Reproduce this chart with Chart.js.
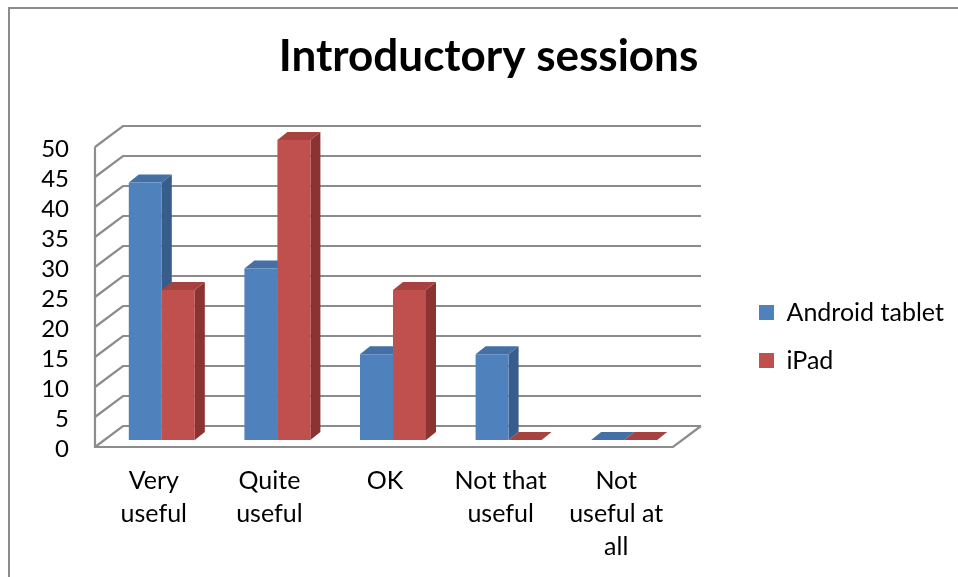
<!DOCTYPE html>
<html lang="en">
<head>
  <meta charset="UTF-8">
  <title>Introductory sessions</title>
  <script src="https://cdn.jsdelivr.net/npm/chart.js"></script>
  <style>
    html, body { margin: 0; padding: 0; background: #fff; }
    #wrap { width: 958px; height: 577px; }
  </style>
</head>
<body>
  <div id="wrap"><canvas id="grafico"></canvas></div>

  <script>
    // Dados do gráfico
    const categories = [['Very', 'useful'], ['Quite', 'useful'], ['OK'], ['Not that', 'useful'], ['Not', 'useful at', 'all']];
    const seriesNames = ['Android tablet', 'iPad'];
    const androidValues = [42.9, 28.6, 14.3, 14.3, 0];
    const ipadValues = [25, 50, 25, 0, 0];
    const yMin = 0, yMax = 50, yStep = 5;

    // cores (frente, topo, lado)
    const blue = ['#4F81BD', '#4470A6', '#385D8A'];
    const red = ['#C0504D', '#A6423F', '#8B3331'];

    // 3D: deslocamentos em relação ao plano das barras
    const frontOff = { dx: -9, dy: 7 };
    const backOff = { dx: 19, dy: -14 };
    const barDepth = { dx: 10, dy: -8 };
    const gridColor = '#8c8c8c';

    const plotRight = 682;
    const fontSize = 25;
    const legendPad = 23;

    // largura da legenda (para deixar a área do gráfico no lugar certo)
    const m = document.createElement('canvas').getContext('2d');
    m.font = fontSize + 'px Lato';
    const textW = Math.max(...seriesNames.map(n => m.measureText(n).width));
    const legendW = legendPad + 15 + fontSize / 2 + textW + 10;

    const plugin3d = {
      id: 'fake3d',
      beforeDraw(chart) {
        const c = chart.ctx;
        c.save();
        c.fillStyle = '#fff';
        c.fillRect(0, 0, chart.width, chart.height);
        c.strokeStyle = '#8c8c8c';
        c.lineWidth = 2;
        c.beginPath();
        c.moveTo(9, chart.height);
        c.lineTo(9, 8);
        c.lineTo(chart.width, 8);
        c.stroke();
        c.restore();
      },
      afterLayout(chart) {
        const lg = chart.legend;
        const w = lg.width;
        lg.left = 759 - legendPad; lg.right = lg.left + w;
        lg.top = 300 - legendPad; lg.bottom = lg.top + 130;
        const t = chart.titleBlock;
        if (t) { t.left = 19; t.right = chart.width; }
      },
      beforeDatasetsDraw(chart) {
        const c = chart.ctx;
        const y = chart.scales.y;
        const { left, right } = chart.chartArea;
        c.save();
        c.strokeStyle = gridColor;
        c.lineWidth = 2.2;
        c.beginPath();
        for (let v = yMin; v <= yMax; v += yStep) {
          const py = y.getPixelForValue(v);
          c.moveTo(left + frontOff.dx, py + frontOff.dy);
          c.lineTo(left + backOff.dx, py + backOff.dy);
          c.lineTo(right + backOff.dx, py + backOff.dy);
        }
        const y0 = y.getPixelForValue(yMin), y1 = y.getPixelForValue(yMax);
        c.moveTo(left + frontOff.dx, y1 + frontOff.dy);
        c.lineTo(left + frontOff.dx, y0 + frontOff.dy);
        c.lineTo(right + frontOff.dx, y0 + frontOff.dy);
        c.lineTo(right + backOff.dx, y0 + backOff.dy);
        c.stroke();

        // topo e lado das barras
        const cols = [blue, red];
        const n = categories.length;
        for (let i = 0; i < n; i++) {
          chart.data.datasets.forEach((ds, d) => {
            const el = chart.getDatasetMeta(d).data[i];
            const p = el.getProps(['x', 'y', 'base', 'width'], true);
            const l = p.x - p.width / 2, r = p.x + p.width / 2;
            // lado
            c.fillStyle = cols[d][2];
            c.beginPath();
            c.moveTo(r, p.y);
            c.lineTo(r + barDepth.dx, p.y + barDepth.dy);
            c.lineTo(r + barDepth.dx, p.base + barDepth.dy);
            c.lineTo(r, p.base);
            c.closePath();
            c.fill();
            // topo
            c.fillStyle = cols[d][1];
            c.beginPath();
            c.moveTo(l, p.y);
            c.lineTo(l + barDepth.dx, p.y + barDepth.dy);
            c.lineTo(r + barDepth.dx, p.y + barDepth.dy);
            c.lineTo(r, p.y);
            c.closePath();
            c.fill();
          });
        }
        c.restore();
      }
    };

    Chart.defaults.font.family = 'Lato';
    Chart.defaults.color = '#000';

    const ctx = document.getElementById('grafico').getContext('2d');
    new Chart(ctx, {
      type: 'bar',
      data: {
        labels: categories,
        datasets: [
          { label: seriesNames[0], data: androidValues, backgroundColor: blue[0] },
          { label: seriesNames[1], data: ipadValues, backgroundColor: red[0] }
        ]
      },
      options: {
        responsive: true,
        maintainAspectRatio: false,
        animation: false,
        layout: { padding: { left: 0, right: 958 - plotRight - legendW, top: 0, bottom: 0 } },
        datasets: { bar: { barPercentage: 1, categoryPercentage: 0.571 } },
        scales: {
          x: {
            grid: { display: false, drawTicks: false },
            border: { display: false },
            ticks: { font: { size: fontSize, lineHeight: 1.32 }, padding: 24, labelOffset: -8, maxRotation: 0, autoSkip: false },
            afterFit(s) { s.height = 577 - 440; }
          },
          y: {
            min: yMin,
            max: yMax,
            grid: { display: false, drawTicks: false },
            border: { display: false },
            ticks: { stepSize: yStep, font: { size: 24, lineHeight: 1 }, padding: 35, labelOffset: 9, autoSkip: false },
            afterFit(s) { s.width = 104; }
          }
        },
        plugins: {
          title: {
            display: true,
            text: 'Introductory sessions',
            font: { size: 44, weight: 'bold', lineHeight: 1.2 },
            color: '#000',
            padding: { top: 30, bottom: 57.2 }
          },
          legend: {
            position: 'right',
            align: 'start',
            labels: { boxWidth: 15, boxHeight: 15, padding: legendPad, font: { size: fontSize } }
          },
          tooltip: { enabled: false }
        }
      },
      plugins: [plugin3d]
    });
  </script>
</body>
</html>
